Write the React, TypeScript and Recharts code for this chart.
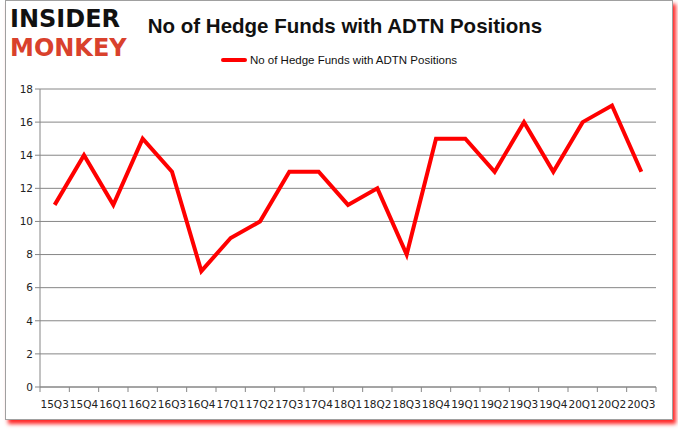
import React from 'react'
import { LineChart, Line, XAxis, YAxis, CartesianGrid } from 'recharts'

const quarters = [
  '15Q3', '15Q4', '16Q1', '16Q2', '16Q3', '16Q4', '17Q1', '17Q2', '17Q3', '17Q4',
  '18Q1', '18Q2', '18Q3', '18Q4', '19Q1', '19Q2', '19Q3', '19Q4', '20Q1', '20Q2', '20Q3',
]
const funds = [11, 14, 11, 15, 13, 7, 9, 10, 13, 13, 11, 12, 8, 15, 15, 13, 16, 13, 16, 17, 13]
const yTicks = [0, 2, 4, 6, 8, 10, 12, 14, 16, 18]

const seriesName = 'No of Hedge Funds with ADTN Positions'
const data = quarters.map((q, i) => ({ quarter: q, value: funds[i] }))

const W = 678
const H = 431
const plotLeft = 40
const plotRight = 22
const band = (W - plotLeft - plotRight) / quarters.length

// category labels centred, tick marks on the boundaries (Excel style)
const QuarterTick = ({ x, y, payload, index }: any) => {
  const axisY = y - 8
  return (
    <g>
      <line x1={x - band / 2} x2={x - band / 2} y1={axisY} y2={axisY + 5} stroke="#868686" />
      {index === quarters.length - 1 && (
        <line x1={x + band / 2} x2={x + band / 2} y1={axisY} y2={axisY + 5} stroke="#868686" />
      )}
      <text x={x} y={axisY + 21} textAnchor="middle" fill="#222" fontSize={10.5} fontFamily="DejaVu Sans">
        {payload.value}
      </text>
    </g>
  )
}

const logoText = { position: 'absolute' as const, left: 10, fontFamily: 'DejaVu Sans', fontWeight: 900, fontSize: 24, lineHeight: 1 }

export default function App() {
  return (
    <div style={{ position: 'absolute', left: 0, top: 0, width: W, height: H, background: '#fff', overflow: 'hidden' }}>
      <div
        style={{
          position: 'absolute', left: 5, top: 0, width: 666, height: 418,
          border: '1px solid #a0a0a0', boxShadow: '3px 4px 4px rgba(255,0,0,0.85)', background: '#fff',
        }}
      />
      <div style={{ ...logoText, top: 7, color: '#111' }}>INSIDER</div>
      <div style={{ ...logoText, top: 36, color: '#d9412c' }}>MONKEY</div>
      <div
        style={{
          position: 'absolute', left: 140, width: 410, top: 14, textAlign: 'center',
          fontFamily: 'Liberation Sans', fontWeight: 'bold', fontSize: 20.5, color: '#111',
        }}
      >
        {seriesName}
      </div>
      <div
        style={{
          position: 'absolute', left: 0, width: W, top: 54, display: 'flex', alignItems: 'center', justifyContent: 'center',
          fontFamily: 'Liberation Sans', fontSize: 11.5, color: '#111',
        }}
      >
        <span style={{ display: 'inline-block', width: 26, height: 4, background: '#ff0000', borderRadius: 2, marginRight: 3 }} />
        {seriesName}
      </div>
      <div style={{ position: 'absolute', left: 0, top: 0 }}>
        <LineChart width={W} height={H} data={data} margin={{ top: 89, right: plotRight, left: 10, bottom: 14 }}>
          <CartesianGrid vertical={false} stroke="#868686" />
          <XAxis
            dataKey="quarter"
            interval={0}
            height={30}
            stroke="#868686"
            tickLine={false}
            padding={{ left: band / 2, right: band / 2 }}
            tick={<QuarterTick />}
          />
          <YAxis
            domain={[0, 18]}
            ticks={yTicks}
            width={30}
            stroke="#868686"
            tickSize={5}
            tick={{ fill: '#222', fontSize: 10.5, fontFamily: 'DejaVu Sans' }}
          />
          <Line
            type="linear"
            dataKey="value"
            name={seriesName}
            stroke="#ff0000"
            strokeWidth={4}
            dot={false}
            isAnimationActive={false}
          />
        </LineChart>
      </div>
    </div>
  )
}
